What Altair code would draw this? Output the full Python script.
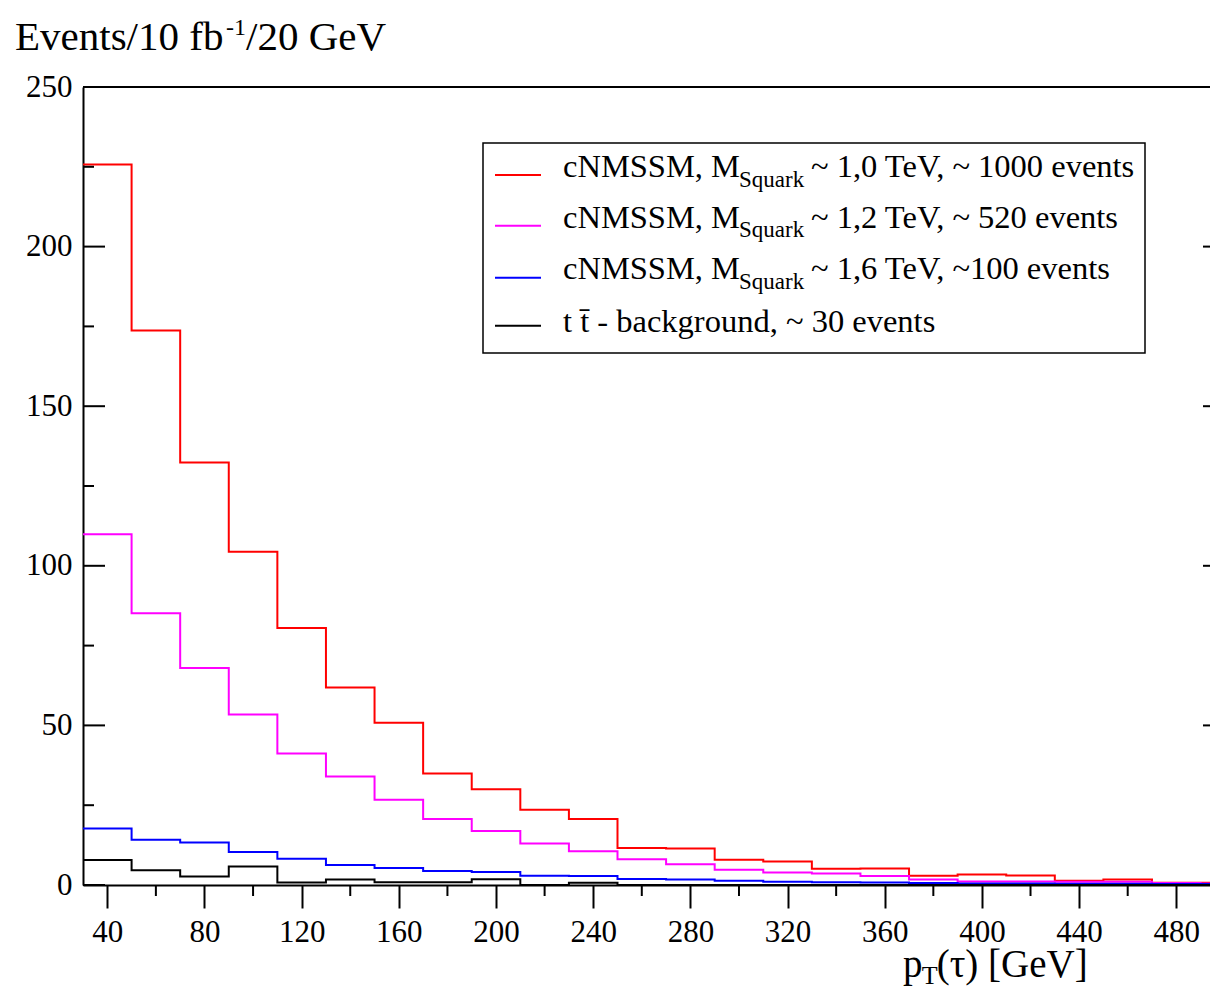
import altair as alt
import pandas as pd

FONT = "Liberation Serif"

# ---- data ----
bin_left = [30, 50, 70, 90, 110, 130, 150, 170, 190, 210, 230, 250,
            270, 290, 310, 330, 350, 370, 390, 410, 430, 450, 470, 490]
bin_width = 20

red = [225.7, 173.7, 132.4, 104.4, 80.5, 61.9, 50.8, 34.9, 30.0, 23.6, 20.7, 11.6,
       11.4, 7.9, 7.4, 5.1, 5.2, 2.9, 3.3, 3.0, 1.3, 1.7, 0.7, 0.7]
magenta = [109.9, 85.1, 68.0, 53.4, 41.2, 34.0, 26.7, 20.7, 16.9, 13.0, 10.6, 8.1,
           6.5, 4.8, 3.9, 3.6, 2.8, 1.7, 1.1, 1.1, 1.0, 1.0, 0.6, 0.5]
blue = [17.7, 14.2, 13.3, 10.3, 8.2, 6.3, 5.3, 4.4, 4.1, 2.9, 2.8, 1.9,
        1.7, 1.3, 1.0, 0.9, 0.8, 0.6, 0.5, 0.5, 0.4, 0.4, 0.3, 0.3]
black = [7.8, 4.6, 2.7, 5.8, 0.8, 1.7, 0.9, 0.9, 1.8, 0.0, 0.7, 0.0,
         0.0, 0.0, 0.0, 0.0, 0.0, 0.0, 0.0, 0.0, 0.0, 0.0, 0.0, 0.0]

series_names = ["cNMSSM 1,0 TeV", "cNMSSM 1,2 TeV", "cNMSSM 1,6 TeV", "ttbar"]
series_colors = ["#ff0000", "#ff00ff", "#0000ff", "#000000"]

x_major = [40, 80, 120, 160, 200, 240, 280, 320, 360, 400, 440, 480]
x_minor = [60, 100, 140, 180, 220, 260, 300, 340, 380, 420, 460]
y_major = [0, 50, 100, 150, 200, 250]
y_minor = [25, 75, 125, 175, 225]

legend_main = ["cNMSSM, M", "cNMSSM, M", "cNMSSM, M"]
legend_sub = ["Squark", "Squark", "Squark"]
legend_rest = ["~ 1,0 TeV, ~ 1000 events", "~ 1,2 TeV, ~ 520 events", "~ 1,6 TeV, ~100 events"]
legend_last = "t t\u0304 - background, ~ 30 events"

# ---- geometry ----
W, H = 1135, 798
XMIN, XMAX = 30, 497.17

xs = alt.Scale(domain=[XMIN, XMAX], nice=False, zero=False)
ys = alt.Scale(domain=[0, 250], nice=False, zero=True)

xaxis = alt.Axis(values=x_major, title=None, grid=False, domainColor="black", domainWidth=2,
                 tickColor="black", tickWidth=2, tickSize=23, labelFont=FONT, labelFontSize=31,
                 labelColor="black", labelPadding=9, labelFlush=False, labelOverlap=False, format="d")
yaxis = alt.Axis(values=y_major, title=None, grid=False, domainColor="black", domainWidth=2,
                 ticks=False, tickSize=0, labelFont=FONT, labelFontSize=31, labelColor="black",
                 labelPadding=11, labelFlush=False, labelOverlap=False, format="d")

rows = []
for name, vals in zip(series_names, [red, magenta, blue, black]):
    for i, (x, v) in enumerate(zip(bin_left, vals)):
        rows.append({"x": x, "y": v, "series": name, "o": i})
    rows.append({"x": bin_left[-1] + bin_width, "y": vals[-1], "series": name, "o": len(vals)})
df = pd.DataFrame(rows)

lines = alt.Chart(df).mark_line(interpolate="step-after", strokeWidth=2, clip=True).encode(
    x=alt.X("x:Q", scale=xs, axis=xaxis),
    y=alt.Y("y:Q", scale=ys, axis=yaxis),
    color=alt.Color("series:N", scale=alt.Scale(domain=series_names, range=series_colors), legend=None),
    order="o:Q",
)

def ytick_layer(vals, x1, x2):
    return alt.Chart(pd.DataFrame({"y": vals})).mark_rule(color="black", strokeWidth=2).encode(
        y=alt.Y("y:Q", scale=ys, axis=yaxis), x=alt.value(x1), x2=alt.value(x2))

ticks_left_major = ytick_layer(y_major, 0, 22)
ticks_left_minor = ytick_layer(y_minor, 0, 11)
# the right frame lies just beyond the cropped picture: only the tips of its ticks show
ticks_right_major = ytick_layer(y_major, W - 15, W)
ticks_right_minor = ytick_layer(y_minor, W - 4, W)

xminor = alt.Chart(pd.DataFrame({"x": x_minor})).mark_rule(color="black", strokeWidth=2).encode(
    x=alt.X("x:Q", scale=xs, axis=xaxis), y=alt.value(H), y2=alt.value(H + 11))

dummy = alt.Data(values=[{"a": 1}])

top_border = alt.Chart(dummy).mark_rule(color="black", strokeWidth=2).encode(
    x=alt.value(0), x2=alt.value(W), y=alt.value(0))

legend_box = alt.Chart(dummy).mark_rect(fill="white", stroke="black", strokeWidth=1.5).encode(
    x=alt.value(400), x2=alt.value(1062), y=alt.value(56), y2=alt.value(266))

line_y = [88, 138.7, 190.7, 238.7]
legend_lines = [
    alt.Chart(dummy).mark_rule(color=c, strokeWidth=2).encode(
        x=alt.value(412), x2=alt.value(458), y=alt.value(yy))
    for c, yy in zip(series_colors, line_y)
]

def txt(s, x, y, size):
    return alt.Chart(dummy).mark_text(text=s, align="left", baseline="alphabetic", font=FONT,
                                      fontSize=size, color="black").encode(
        x=alt.value(x), y=alt.value(y))

base_y = [90, 140.5, 191.5]
sub_y = [99.7, 150.3, 202]
legend_texts = []
for m, s, r, by, sy in zip(legend_main, legend_sub, legend_rest, base_y, sub_y):
    legend_texts += [txt(m, 480, by, 32.5), txt(s, 656, sy, 23), txt(r, 728, by, 32.5)]
legend_texts.append(txt(legend_last, 480, 245, 32.5))

title_texts = [
    txt("Events/10 fb", -68, -37, 41),
    txt("-1", 143, -52, 24),
    txt("/20 GeV", 163, -37, 41),
]
xtitle_texts = [
    txt("p", 820, 890, 39),
    txt("T", 838.7, 897, 26),
    txt("(\u03c4) [GeV]", 853.7, 890, 39),
]

chart = alt.layer(
    lines, ticks_left_major, ticks_left_minor, ticks_right_major, ticks_right_minor, xminor,
    top_border, legend_box, *legend_lines, *legend_texts, *title_texts, *xtitle_texts
).properties(
    width=W, height=H,
    autosize=alt.AutoSizeParams(type="none"),
    padding={"left": 75, "top": 79, "right": -8, "bottom": 107},
).configure_view(stroke=None).configure(background="white")

chart.save("out.html", embed_options={"renderer": "svg", "actions": False})
